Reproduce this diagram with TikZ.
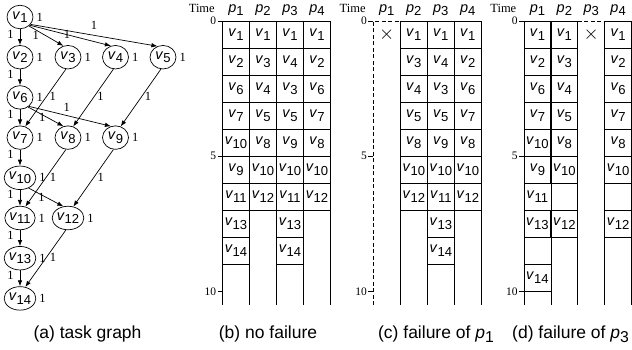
\documentclass[tikz,border=0pt]{standalone}
\usepackage{fontspec}
\setmainfont{Liberation Sans}
\newfontfamily\tms{Liberation Serif}
\usepackage{graphicx}
\usepackage{tikz}
\usetikzlibrary{arrows.meta}
\usetikzlibrary{shapes.geometric}
\usetikzlibrary{positioning}

\newcommand\tv[1]{\textit{v}\raisebox{-0.25em}{\scalebox{0.9}{#1}}}
\newcommand\pp[1]{\textit{p}\raisebox{-0.25em}{\scalebox{0.9}{#1}}}

\tikzset{
  task/.style={ellipse, draw, line width=0.7pt, minimum width=26pt, minimum height=23.5pt, inner sep=0pt},
  wt/.style={font=\tms\fontsize{12.5}{12.5}\selectfont, inner sep=1pt},
  arr/.style={-{Latex[length=6pt,width=4.5pt]}, line width=0.7pt},
  cell/.style={draw, line width=0.8pt, minimum width=27pt, minimum height=27.05pt, inner sep=0pt},
  col/.style={line width=0.8pt},
  fail/.style={line width=0.8pt, dash pattern=on 4pt off 2.5pt},
  num/.style={font=\tms\fontsize{11.5}{11.5}\selectfont, inner sep=1pt},
  hd/.style={anchor=base, inner sep=0pt},
  tm/.style={font=\tms\fontsize{12.5}{12.5}\selectfont, anchor=base east, inner sep=0pt},
  cross/.style={inner sep=0pt},
  capt/.style={font=\fontsize{17.5}{20}\selectfont, anchor=base, inner sep=0pt},
}

\begin{document}
\begin{tikzpicture}[x=1pt, y=-1pt, font=\fontsize{14.5}{16}\selectfont]
    \useasboundingbox (0,0) rectangle (632,350);
    % task graph
    \node[task] (v1) at (20,17) {\tv{1}};
    \node[task] (v2) at (20,57.2) {\tv{2}};
    \node[task] (v3) at (68,57.2) {\tv{3}};
    \node[task] (v4) at (115.5,57.2) {\tv{4}};
    \node[task] (v5) at (163,57.2) {\tv{5}};
    \node[task] (v6) at (20,97.4) {\tv{6}};
    \node[task] (v7) at (20,137.6) {\tv{7}};
    \node[task] (v8) at (68,137.6) {\tv{8}};
    \node[task] (v9) at (115.5,137.6) {\tv{9}};
    \node[task] (v10) at (20,177.8) {\tv{10}};
    \node[task] (v11) at (20,218) {\tv{11}};
    \node[task] (v12) at (68,218) {\tv{12}};
    \node[task] (v13) at (20,258.2) {\tv{13}};
    \node[task] (v14) at (20,298.4) {\tv{14}};
    \foreach \n in {1,...,14}
      \node[wt, right=2pt of v\n] (w\n) {1};
    \foreach \a/\b in {1/2,2/6,6/7,7/10,10/11,11/13,13/14}
      \draw[arr] (v\a) -- (v\b) node[wt, pos=0.3, left=5pt] (e\a-\b) {1};
    \draw[arr] (v1.-45) -- (v3.112) node[wt, pos=0.2, yshift=-5pt] (e1-3) {1};
    \draw[arr] (v1.-40) -- (v4.112) node[wt, pos=0.46] (e1-4) {1};
    \draw[arr] (v1.-35) -- (v5.117) node[wt, pos=0.5, above=4pt] (e1-5) {1};
    \draw[arr] (v6.-50) -- (v8.112) node[wt, pos=0.4, yshift=-3pt] (e6-8) {1};
    \draw[arr] (v6.-45) -- (v9.112) node[wt, pos=0.46, above=3pt] (e6-9) {1};
    \draw[arr] (v10.-50) -- (v12.112) node[wt, pos=0.37, yshift=-3pt] (e10-12) {1};
    \foreach \a/\b in {3/7,4/8,5/9,8/11,9/12,12/14}
      \draw[arr] (v\a.-100) -- (v\b.65) node[wt, pos=0.48, right=2pt] (e\a-\b) {1};
    \node[capt] (cap-a) at (87.5,338.3) {(a) task graph};

    % no failure
    \begin{scope}[shift={(222.5,21)}, x=27pt, y=-27.05pt]
      \node[tm] (b-time) at (-0.28,-0.33) {Time};
      \foreach \cc in {1,...,4}
        \node[hd] (b-p\cc) at (\cc-0.5,-0.33) {\pp{\cc}};
      \foreach \tck in {0,5,10}
        \draw[col] (0,\tck) -- ++(-5pt,0) node[num, left] (b-t\tck) {\tck};
      \foreach \cc in {0,...,4}
        \draw[col] (\cc,0) -- (\cc,10.5);
      \foreach \rr/\tsk in {0/1,1/2,2/6,3/7,4/10,5/9,6/11,7/13,8/14}
        \node[cell] (b1-\rr) at (0.5,\rr+0.5) {\tv{\tsk}};
      \foreach \rr/\tsk in {0/1,1/3,2/4,3/5,4/8,5/10,6/12}
        \node[cell] (b2-\rr) at (1.5,\rr+0.5) {\tv{\tsk}};
      \foreach \rr/\tsk in {0/1,1/4,2/3,3/5,4/9,5/10,6/11,7/13,8/14}
        \node[cell] (b3-\rr) at (2.5,\rr+0.5) {\tv{\tsk}};
      \foreach \rr/\tsk in {0/1,1/2,2/6,3/7,4/8,5/10,6/12}
        \node[cell] (b4-\rr) at (3.5,\rr+0.5) {\tv{\tsk}};
    \end{scope}
    \node[capt] (cap-b) at (268,338.3) {(b) no failure};

    % failure of p1
    \begin{scope}[shift={(373.3,21)}, x=27pt, y=-27.05pt]
      \node[tm] (c-time) at (-0.28,-0.33) {Time};
      \foreach \cc in {1,...,4}
        \node[hd] (c-p\cc) at (\cc-0.5,-0.33) {\pp{\cc}};
      \foreach \tck in {0,5,10}
        \draw[col] (0,\tck) -- ++(-5pt,0) node[num, left] (c-t\tck) {\tck};
      \draw[fail] (0,10.5) -- (0,0) -- (1,0);
      \foreach \cc in {1,...,4}
        \draw[col] (\cc,0) -- (\cc,10.5);
      \node[cross] (c1-0) at (0.5,0.5) {\scalebox{1.35}{$\times$}};
      \foreach \rr/\tsk in {0/1,1/3,2/4,3/5,4/8,5/10,6/12}
        \node[cell] (c2-\rr) at (1.5,\rr+0.5) {\tv{\tsk}};
      \foreach \rr/\tsk in {0/1,1/4,2/3,3/5,4/9,5/10,6/11,7/13,8/14}
        \node[cell] (c3-\rr) at (2.5,\rr+0.5) {\tv{\tsk}};
      \foreach \rr/\tsk in {0/1,1/2,2/6,3/7,4/8,5/10,6/12}
        \node[cell] (c4-\rr) at (3.5,\rr+0.5) {\tv{\tsk}};
    \end{scope}
    \node[capt] (cap-c) at (436,338.3) {(c) failure of \pp{1}};

    % failure of p3
    \begin{scope}[shift={(524,21)}, x=26.9pt, y=-27.05pt]
      \node[tm] (d-time) at (-0.28,-0.33) {Time};
      \foreach \cc in {1,...,4}
        \node[hd] (d-p\cc) at (\cc-0.5,-0.33) {\pp{\cc}};
      \foreach \tck in {0,5,10}
        \draw[col] (0,\tck) -- ++(-5pt,0) node[num, left] (d-t\tck) {\tck};
      \foreach \cc in {0,...,4}
        \draw[col] (\cc,0) -- (\cc,10.5);
      \draw[fail] (2,0) -- (3,0);
      \node[cross] (d3-0) at (2.5,0.5) {\scalebox{1.35}{$\times$}};
      \foreach \rr/\tsk in {0/1,1/2,2/6,3/7,4/10,5/9,6/11,7/13,9/14}
        \node[cell] (d1-\rr) at (0.5,\rr+0.5) {\tv{\tsk}};
      \foreach \rr/\tsk in {0/1,1/3,2/4,3/5,4/8,5/10,7/12}
        \node[cell] (d2-\rr) at (1.5,\rr+0.5) {\tv{\tsk}};
      \foreach \rr/\tsk in {0/1,1/2,2/6,3/7,4/8,5/10,7/12}
        \node[cell] (d4-\rr) at (3.5,\rr+0.5) {\tv{\tsk}};
    \end{scope}
    \node[capt, anchor=base west] (cap-d) at (512,338.3) {(d) failure of \pp{3}};
\end{tikzpicture}
\end{document}
